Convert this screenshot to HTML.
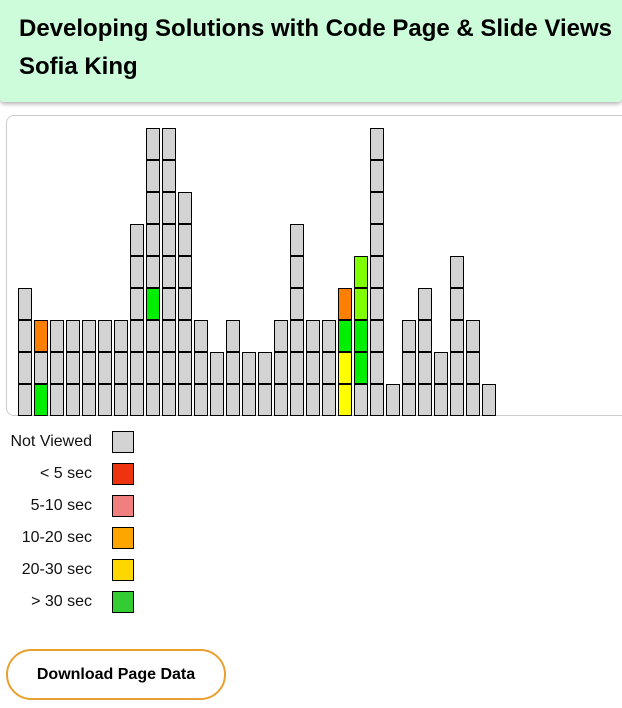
<!DOCTYPE html>
<html><head><meta charset="utf-8"><style>
body{margin:0;width:622px;height:708px;overflow:hidden;background:#fff;font-family:"Liberation Sans",Arial,sans-serif;position:relative}
#hdr{position:absolute;left:0;top:0;width:622px;height:102px;background:#ccfcd9;border-radius:0 0 4px 4px;box-shadow:0 2px 4px rgba(0,0,0,.3)}
#hdr div{position:absolute;left:19px;font-weight:bold;font-size:24px;color:#000;white-space:nowrap}
#chart{position:absolute;left:6px;top:115px;width:630px;height:301px;border:1px solid #ccc;border-radius:8px;box-sizing:border-box}
.cell{position:absolute;width:14px;height:32px;border:1px solid #000;box-sizing:border-box}
.lg-t{position:absolute;width:92px;text-align:right;font-size:16px;color:#111}
.lg-s{position:absolute;left:112px;width:22px;height:22px;border:1px solid #000;box-sizing:border-box}
#btn{position:absolute;left:6px;top:649px;width:220px;height:51px;border:2px solid #e8a030;border-radius:26px;box-sizing:border-box;background:#fff;font-weight:bold;font-size:16px;font-family:"Liberation Sans",Arial,sans-serif;color:#000}
</style></head><body>
<div id="hdr">
<div style="top:15px">Developing Solutions with Code Page &amp; Slide Views</div>
<div style="top:53px">Sofia King</div>
</div>
<div id="chart"></div>
<div id="legend"></div>
<button id="btn">Download Page Data</button>
<script>
// each column: cells from bottom up; codes: g=gray, G=green, o=orange, y=yellow, l=lime
const columns = ["gggg","Ggo","ggg","ggg","ggg","ggg","ggg","gggggg","gggGggggg","ggggggggg","ggggggg","ggg","gg","ggg","gg","gg","ggg","gggggg","ggg","ggg","yyGo","gGGll","ggggggggg","g","ggg","gggg","gg","ggggg","ggg","g"];
const colorMap = {g:"#d3d3d3",G:"#00ee00",o:"#ff8000",y:"#ffff00",l:"#80ff00"};
const legendLabels = ["Not Viewed","< 5 sec","5-10 sec","10-20 sec","20-30 sec","> 30 sec"];
const legendColors = ["#d3d3d3","#ee3311","#f08080","#ffa500","#ffd700","#33cc33"];
const chart=document.getElementById('chart');
const x0=11, pitch=16, bottom=300, ch=32;
function xPos(i){return x0+i*pitch;}
function yPos(j){return bottom-(j+1)*ch;}
columns.forEach((col,i)=>{
  col.split('').forEach((c,j)=>{
    const d=document.createElement('div');
    d.className='cell';
    
    
    d.style.left=xPos(i)+'px';d.style.top=yPos(j)+'px';d.style.background=colorMap[c];
    chart.appendChild(d);
  });
});
const lg=document.getElementById('legend');
legendLabels.forEach((t,i)=>{
  const y=431+i*32;
  const s=document.createElement('div');
  s.className='lg-t';s.textContent=t;s.style.left='0px';s.style.top=(y+2)+'px';
  
  
  lg.appendChild(s);
  const b=document.createElement('div');
  b.className='lg-s';b.style.top=y+'px';b.style.background=legendColors[i];
  
  
  lg.appendChild(b);
});
</script>
</body></html>
